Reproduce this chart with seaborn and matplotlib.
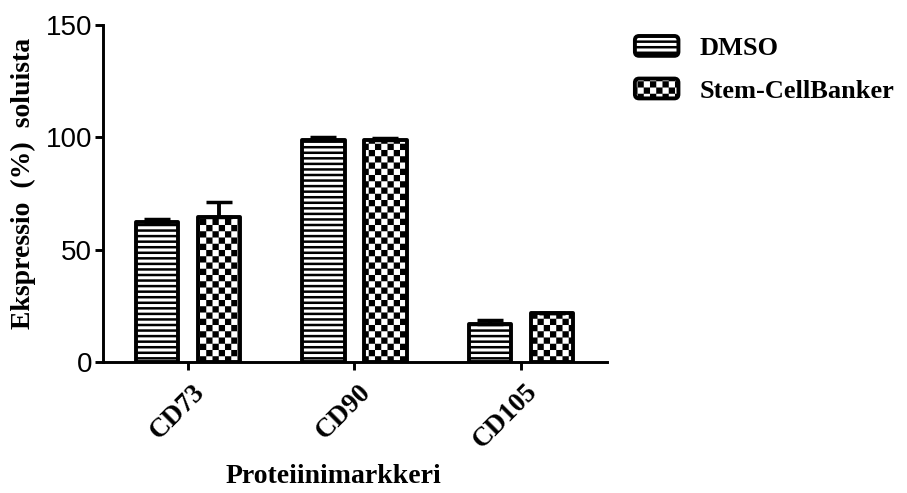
import numpy as np
import pandas as pd
import matplotlib
matplotlib.use("Agg")
import matplotlib.pyplot as plt
import matplotlib.hatch as mhatch
from matplotlib.path import Path
from matplotlib.patches import FancyBboxPatch, Patch
from matplotlib.legend_handler import HandlerPatch
from matplotlib.font_manager import FontProperties
from matplotlib.transforms import ScaledTranslation
import seaborn as sns

# ---- data -------------------------------------------------------------
markers = ["CD73", "CD90", "CD105"]
groups = ["DMSO", "Stem-CellBanker"]
dmso_mean = [62.5, 99.0, 17.1]
dmso_err = [1.3, 1.0, 1.5]
scb_mean = [64.5, 99.0, 21.6]
scb_err = [6.8, 0.8, 0.4]
y_ticks = [0, 50, 100, 150]


# ---- checkerboard hatch (drawn for the 'O' hatch letter) --------------
class CheckerHatch(mhatch.HatchPatternBase):
    cells = 16
    half = 0.019

    def __init__(self, hatch, density):
        self.n = self.cells if "O" in hatch else 0
        self.num_vertices = (self.n * self.n // 2) * 5

    def set_vertices_and_codes(self, vertices, codes):
        n = self.n
        step = 1.0 / n
        h = self.half
        k = 0
        for i in range(n):
            for j in range(n):
                if (i + j) % 2:
                    continue
                cx, cy = (i + 0.5) * step, (j + 0.5) * step
                vertices[k:k + 5] = [(cx - h, cy - h), (cx + h, cy - h),
                                     (cx + h, cy + h), (cx - h, cy + h),
                                     (cx - h, cy - h)]
                codes[k:k + 5] = [Path.MOVETO, Path.LINETO, Path.LINETO,
                                  Path.LINETO, Path.CLOSEPOLY]
                k += 5


mhatch._hatch_types = [CheckerHatch if t is mhatch.LargeCircles else t
                       for t in mhatch._hatch_types]

# ---- style ------------------------------------------------------------
sns.set_style("ticks")
plt.rcParams.update({
    "hatch.linewidth": 1.8,
    "hatch.color": "black",
    "text.color": "black",
    "axes.labelcolor": "black",
    "xtick.color": "black",
    "ytick.color": "black",
    "axes.edgecolor": "black",
})

serif_bold = dict(family="Liberation Serif", weight="bold")

fig = plt.figure(figsize=(9.07, 4.93), dpi=100)
ax = fig.add_axes([0.1136, 0.2657, 0.5557, 0.6836])

df = pd.DataFrame({
    "marker": markers * 2,
    "group": [groups[0]] * len(markers) + [groups[1]] * len(markers),
    "value": dmso_mean + scb_mean,
})

sns.barplot(data=df, x="marker", y="value", hue="group", order=markers,
            hue_order=groups, palette=["white", "white"], saturation=1,
            edgecolor="black", linewidth=2.8, width=0.745, gap=0.315,
            errorbar=None, legend=False, ax=ax)

hatches = ["---", "O"]
for container, hatch, errs in zip(ax.containers, hatches, [dmso_err, scb_err]):
    for bar in container:
        bar.set_hatch(hatch)
        bar.set_joinstyle("round")
        bar.set_facecolor("white")
        bar.set_edgecolor("black")
    xs = [b.get_x() + b.get_width() / 2 for b in container]
    ys = [b.get_height() for b in container]
    ax.errorbar(xs, ys, yerr=[np.zeros(len(errs)), errs], fmt="none",
                ecolor="black", elinewidth=2.8, capsize=9.5, capthick=2.5,
                zorder=3)

ax.set_xlim(-0.51, 2.517)
ax.set_ylim(0, 150)
ax.set_yticks(y_ticks)
ax.set_yticklabels([str(v) for v in y_ticks], family="Liberation Sans",
                   fontsize=20, color="black")

sns.despine(ax=ax)
for side in ("left", "bottom"):
    ax.spines[side].set_linewidth(2.1)
    ax.spines[side].set_color("black")
ax.tick_params(axis="both", width=2.1, length=6, color="black")
ax.tick_params(axis="y", pad=2)
ax.tick_params(axis="x", pad=12)

ax.set_xticks(range(len(markers)))
ax.set_xticklabels(markers, rotation=45, ha="right", va="center",
                   rotation_mode="anchor", fontsize=19.5, color="black",
                   **serif_bold)
shift = ScaledTranslation(9 / 72, -1 / 72, fig.dpi_scale_trans)
for lab in ax.get_xticklabels():
    lab.set_transform(lab.get_transform() + shift)

ax.set_xlabel("Proteiinimarkkeri", fontsize=20, color="black", **serif_bold)
ax.xaxis.label.set_va("center")
ax.xaxis.set_label_coords(0.458, -0.341)
ax.set_ylabel("Ekspressio  (%)  soluista", fontsize=20, color="black",
              **serif_bold)
ax.yaxis.label.set_va("center")
ax.yaxis.set_label_coords(-0.157, 0.53)


# ---- legend with rounded hatched swatches ------------------------------
def rounded_handle(legend, orig_handle, xdescent, ydescent, width, height,
                   fontsize):
    return FancyBboxPatch((-xdescent, -ydescent), width, height,
                          boxstyle="round,pad=0,rounding_size=3")


handles = []
for h in hatches:
    p = Patch(facecolor="white", edgecolor="black", hatch=h, linewidth=2.8)
    p.set_joinstyle("round")
    handles.append(p)

fig.legend(handles, groups, loc="upper left", bbox_to_anchor=(0.700, 0.927),
           frameon=False, prop=FontProperties(size=19, **serif_bold),
           handlelength=1.65, handleheight=0.78, handletextpad=0.8,
           labelspacing=0.7, borderpad=0, borderaxespad=0,
           handler_map={Patch: HandlerPatch(patch_func=rounded_handle)})

fig.savefig("out.png", dpi=100)
